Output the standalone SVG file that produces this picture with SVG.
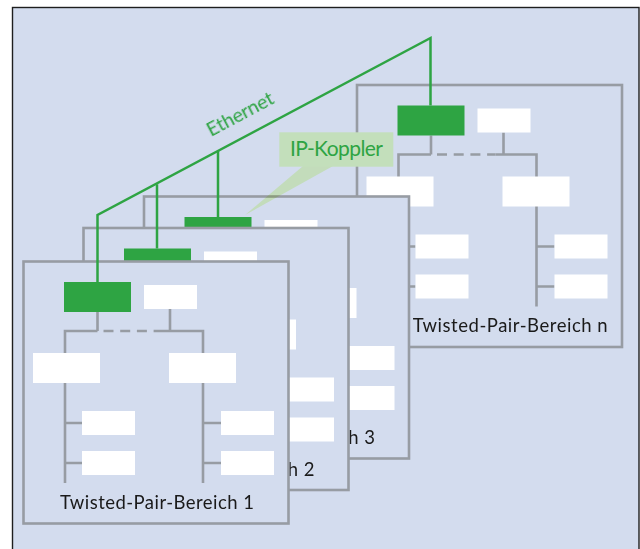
<svg xmlns="http://www.w3.org/2000/svg" xmlns:xlink="http://www.w3.org/1999/xlink" width="640" height="549" viewBox="0 0 640 549">
<style>
.bg{fill:#d3dcee}
.frame{fill:#d3dcee;stroke:#979ca3;stroke-width:2.6}
.ln{fill:none;stroke:#979ca3;stroke-width:2.6}
.dash{fill:none;stroke:#979ca3;stroke-width:2.6;stroke-dasharray:10 6.7}
.coupler{fill:#2ea443}
.box{fill:#ffffff}
.eth{fill:none;stroke:#2ea443;stroke-width:2.5;stroke-linejoin:miter}
.lbl{font-family:Lato,"Liberation Sans",sans-serif;font-size:18.5px;fill:#1a1a1a}
.glbl{font-family:Lato,"Liberation Sans",sans-serif;fill:#2ea443}
.callout{fill:#c3dfbb}
</style>
<defs>
<g id="panel-body">
<rect class="frame" x="0" y="0" width="265" height="262"/>
<path class="ln" d="M74 50.5V69.5M146.5 47.5V69.5M41.5 221.5V69.5H74M138.5 69.5H179.5V221.5M41.5 161.5H58.5M41.5 201.5H58.5M179.5 161.5H197.5M179.5 201.5H197.5"/>
<path class="dash" d="M80 69.5H138.5"/>
<rect class="coupler" x="40.5" y="20.5" width="67" height="30"/>
<rect class="box" x="120.5" y="23.5" width="53" height="24"/>
<rect class="box" x="9.5" y="91.5" width="67" height="30"/>
<rect class="box" x="145.5" y="91.5" width="67" height="30"/>
<rect class="box" x="58.5" y="149.5" width="53" height="24"/>
<rect class="box" x="58.5" y="189.5" width="53" height="24"/>
<rect class="box" x="197.5" y="149.5" width="53" height="24"/>
<rect class="box" x="197.5" y="189.5" width="53" height="24"/>
</g>
</defs>
<rect x="0" y="0" width="640" height="549" fill="#ffffff"/>
<rect class="bg" x="12.5" y="7.5" width="626.5" height="560" stroke="#1e1e1e" stroke-width="1.4"/>
<g id="panel-n" transform="translate(357,85)">
<use xlink:href="#panel-body" href="#panel-body"/>
<text class="lbl" x="55.7" y="247" textLength="195">Twisted-Pair-Bereich n</text>
</g>
<g id="panel-3" transform="translate(144,196.5)">
<use xlink:href="#panel-body" href="#panel-body"/>
<text class="lbl" x="37" y="247.5" textLength="194">Twisted-Pair-Bereich 3</text>
</g>
<g id="panel-2" transform="translate(83.5,228)">
<use xlink:href="#panel-body" href="#panel-body"/>
<text class="lbl" x="37" y="248" textLength="194">Twisted-Pair-Bereich 2</text>
</g>
<g id="panel-1" transform="translate(23.5,261.5)">
<use xlink:href="#panel-body" href="#panel-body"/>
<text class="lbl" x="36.5" y="247.5" textLength="194">Twisted-Pair-Bereich 1</text>
</g>
<g id="ip-koppler-callout">
<polygon points="303,166 333,166 245,215" fill="#ecffc9" style="mix-blend-mode:multiply"/>
<rect class="callout" x="279.3" y="132.3" width="114" height="34.4"/>
<text class="glbl" x="290" y="156" font-size="21" textLength="93">IP-Koppler</text>
</g>
<g id="connectors">
<polyline class="eth" points="97.5,282 97.5,215 430.5,38 430.5,105.5"/>
<path class="eth" d="M157 184.2V248.5M218 151V217"/>
<text class="glbl" font-size="19.5" transform="translate(211,137) rotate(-28)" textLength="73">Ethernet</text>
</g>
</svg>
